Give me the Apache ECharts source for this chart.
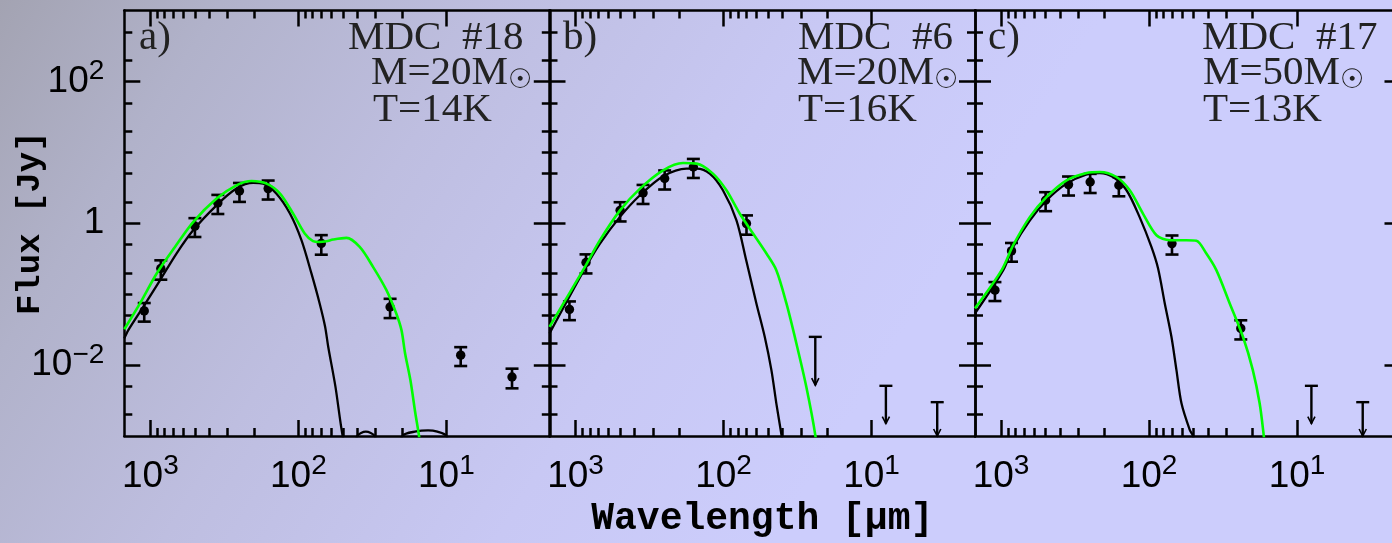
<!DOCTYPE html>
<html>
<head>
<meta charset="utf-8">
<script src="https://cdn.jsdelivr.net/npm/echarts@6/dist/echarts.min.js"></script>
<style>html,body{margin:0;padding:0;background:#c0c0e8;} #c{width:1392px;height:543px;}</style>
</head>
<body>
<div id="c"></div>
<script>
// ---------- tick / label values ----------
const xRange = [2, 1500];
const yRange = [0.001, 1000];
const xMajor = [10, 100, 1000];
const xMinor = [20, 30, 40, 50, 60, 70, 80, 90, 200, 300, 400, 500, 600, 700, 800, 900];
const yMajor = [0.01, 1, 100];
const yMinor = [0.002, 0.005, 0.02, 0.05, 0.1, 0.2, 0.5, 2, 5, 10, 20, 50, 200, 500];
const xLabelValues = [10, 100, 1000];
const yLabelValues = [0.01, 1, 100];

// ---------- panel a (MDC #18) ----------
const lamA  = [1100, 850, 500, 350, 250, 160, 70, 24, 8, 3.6];
const fluxA = [0.058, 0.23, 0.91, 1.93, 2.85, 3.08, 0.52, 0.066, 0.0138, 0.0068];
const errA  = [0.017, 0.07, 0.27, 0.58, 0.85, 0.92, 0.16, 0.02, 0.0041, 0.0021];
const blackA = [[1500,0.0238],[1409,0.0311],[1117,0.0662],[861,0.157],[666,0.374],[514,0.796],[357,1.79],[262,3.08],[202,3.70],[173,3.62],[141,2.62],[114,1.37],[95.3,0.577],[81.6,0.196],[71.8,0.074],[66,0.035],[62.8,0.018],[56.2,0.005],[50.2,0.001],[45,0.0004],[40,0.001],[35,0.00115],[30.5,0.001],[27,0.0004],[22,0.0004],[19.8,0.001],[16,0.00116],[13.3,0.0012],[11.5,0.00115],[10,0.001],[9,0.0004]];
const greenA = [[1500,0.032],[1175,0.074],[906,0.196],[682,0.463],[514,1.04],[357,2.23],[262,3.43],[207,3.94],[164,3.62],[133,2.62],[108.6,1.37],[90.6,0.716],[79.6,0.56],[72,0.545],[64.6,0.558],[58.3,0.589],[47.3,0.621],[38.5,0.463],[31.3,0.243],[25.4,0.114],[21.8,0.0535],[20.1,0.0311],[19.0,0.0146],[17.5,0.00615],[16.2,0.00209],[15.3,0.001],[14.5,0.0004]];

// ---------- panel b (MDC #6) ----------
const lamB  = [1100, 850, 500, 350, 250, 160, 70];
const fluxB = [0.061, 0.28, 1.52, 2.67, 4.27, 6.21, 0.99];
const errB  = [0.018, 0.084, 0.46, 0.8, 1.28, 1.86, 0.3];
const limLamB = [24, 8, 3.6];
const limUpB  = [0.025, 0.0051, 0.0030];
const limTipB = [0.0052, 0.0015, 0.001];
const blackB = [[1500,0.0279],[864,0.230],[684,0.517],[501,1.23],[367,2.48],[256,4.59],[178,5.89],[152,5.89],[124,5.01],[101,2.92],[81.8,1.10],[70.3,0.301],[60.0,0.074],[52.7,0.0251],[47.5,0.0085],[44.0,0.00289],[40.6,0.00103],[38,0.0004]];
const greenB = [[1500,0.0346],[864,0.243],[684,0.577],[501,1.52],[367,3.08],[256,5.58],[188,7.06],[152,6.93],[118,5.01],[95.6,2.92],[77.8,1.37],[63.2,0.716],[51.3,0.374],[44.0,0.218],[37.6,0.074],[32.2,0.0202],[27.6,0.00495],[24.0,0.00103],[23,0.0004]];

// ---------- panel c (MDC #17) ----------
const lamC  = [1100, 850, 500, 350, 250, 160, 70, 24];
const fluxC = [0.114, 0.407, 2.11, 3.51, 3.82, 3.43, 0.517, 0.0329];
const errC  = [0.034, 0.12, 0.63, 1.05, 1.15, 1.03, 0.155, 0.0099];
const limLamC = [8, 3.6];
const limUpC  = [0.0051, 0.0030];
const limTipC = [0.0015, 0.001];
const blackC = [[1500,0.0535],[967,0.218],[828,0.463],[638,1.10],[492,2.11],[361,3.62],[264,4.90],[215,5.11],[175,4.49],[142,2.92],[116,1.23],[96.4,0.463],[86.9,0.230],[78.3,0.074],[70.6,0.0251],[65.3,0.0085],[60.4,0.00289],[53.1,0.00122],[50.5,0.001],[48,0.0004]];
const greenC = [[1500,0.063],[991,0.218],[828,0.490],[638,1.23],[492,2.35],[361,4.03],[264,5.11],[215,5.28],[166,4.49],[135,2.92],[110,1.37],[89.1,0.678],[72.5,0.577],[56,0.577],[47.9,0.568],[41,0.374],[35.1,0.218],[28.5,0.074],[23.2,0.0251],[19.9,0.0085],[17.9,0.00289],[16.8,0.00103],[16,0.0004]];

// ---------- annotation texts ----------
const panelLetters = ['a)', 'b)', 'c)'];
const panelNames   = ['MDC  #18', 'MDC  #6', 'MDC  #17'];
const panelMass    = ['M=20M', 'M=20M', 'M=50M'];
const panelTemp    = ['T=14K', 'T=16K', 'T=13K'];

// ---------- layout ----------
const panelLeft = [124.3, 549.5, 975];
const panelTop = 10.5, panelW = 425.5, panelH = 425.5;
const letterX = [139, 563, 988];
const nameX = [348, 798, 1202];
const massX = [371, 797, 1203];
const tempX = [373, 798, 1203];

const chart = echarts.init(document.getElementById('c'), null, {renderer: 'canvas'});

const BLACK = '#000';
const axisLineStyle = {color: BLACK, width: 2.5};
const supFmt = (v) => {
  const e = Math.round(Math.log10(v));
  if (e === 0) return '{b|1}';
  return '{b|10}{s|' + (e < 0 ? '\u2212' + (-e) : e) + '}';
};
const labelRich = {
  b: {fontFamily: 'Liberation Sans', fontSize: 37, color: BLACK, lineHeight: 48},
  s: {fontFamily: 'Liberation Sans', fontSize: 28, color: BLACK, lineHeight: 12, verticalAlign: 'top'}
};

function mkX(g, pos, major, withLabel) {
  const ax = {
    type: 'log', logBase: 10, min: xRange[0], max: xRange[1], inverse: true,
    gridIndex: g, position: pos,
    splitLine: {show: false}, minorTick: {show: false}, minorSplitLine: {show: false},
    axisLine: {show: major, onZero: false, lineStyle: axisLineStyle},
    axisTick: {show: true, inside: true, length: major ? 16 : 8,
      lineStyle: {color: BLACK, width: 2.5}, customValues: major ? xMajor : xMinor},
    axisLabel: {show: false}
  };
  if (withLabel) {
    ax.axisLabel = {show: true, customValues: xLabelValues, formatter: supFmt, margin: 16.5, rich: labelRich};
  }
  return ax;
}
function mkY(g, pos, major, withLabel) {
  const ax = {
    type: 'log', logBase: 10, min: yRange[0], max: yRange[1],
    gridIndex: g, position: pos,
    splitLine: {show: false}, minorTick: {show: false}, minorSplitLine: {show: false},
    axisLine: {show: major, onZero: false, lineStyle: axisLineStyle},
    axisTick: {show: true, inside: true, length: major ? 16 : 8,
      lineStyle: {color: BLACK, width: 2.5}, customValues: major ? yMajor : yMinor},
    axisLabel: {show: false}
  };
  if (withLabel) {
    ax.axisLabel = {show: true, customValues: yLabelValues, formatter: supFmt, margin: 20, rich: labelRich};
  }
  return ax;
}

const grids = [], xAxes = [], yAxes = [];
panelLeft.forEach((left, g) => {
  grids.push({left: left, top: panelTop, width: panelW, height: panelH, show: false, containLabel: false, outerBoundsMode: 'none'});
  const xb = mkX(g, 'bottom', true, true);
  if (g === 1) {
    xb.name = 'Wavelength [\u03bcm]';
    xb.nameLocation = 'middle';
    xb.nameGap = 64;
    xb.nameMoveOverlap = false;
    xb.nameTextStyle = {fontFamily: 'Liberation Mono', fontWeight: 'bold', fontSize: 38, color: BLACK};
  }
  xAxes.push(xb, mkX(g, 'bottom', false, false), mkX(g, 'top', true, false), mkX(g, 'top', false, false));
  const yl = mkY(g, 'left', true, g === 0);
  if (g === 0) {
    yl.name = 'Flux [Jy]';
    yl.nameLocation = 'middle';
    yl.nameRotate = 90;
    yl.nameGap = 77;
    yl.nameMoveOverlap = false;
    yl.nameTextStyle = {fontFamily: 'Liberation Mono', fontWeight: 'bold', fontSize: 34, color: BLACK};
  }
  yAxes.push(yl, mkY(g, 'left', false, false), mkY(g, 'right', true, false), mkY(g, 'right', false, false));
});

function errRender(params, api) {
  const x = api.value(0), y = api.value(1), e = api.value(2);
  const c = api.coord([x, y]);
  const hi = api.coord([x, y + e]);
  const lo = api.coord([x, y - e]);
  const w = 6.5;
  const st = {stroke: BLACK, lineWidth: 2.6};
  return {type: 'group', children: [
    {type: 'line', shape: {x1: c[0], y1: hi[1], x2: c[0], y2: lo[1]}, style: st},
    {type: 'line', shape: {x1: c[0] - w, y1: hi[1], x2: c[0] + w, y2: hi[1]}, style: st},
    {type: 'line', shape: {x1: c[0] - w, y1: lo[1], x2: c[0] + w, y2: lo[1]}, style: st},
    {type: 'circle', shape: {cx: c[0], cy: c[1], r: 4.7}, style: {fill: BLACK}}
  ]};
}
function limRender(params, api) {
  const x = api.value(0), up = api.value(1), tip = api.value(2);
  const a = api.coord([x, up]);
  const t = api.coord([x, tip]);
  const w = 6.5;
  const st = {stroke: BLACK, lineWidth: 2.4};
  return {type: 'group', children: [
    {type: 'line', shape: {x1: a[0], y1: a[1], x2: t[0], y2: t[1]}, style: st},
    {type: 'line', shape: {x1: a[0] - w, y1: a[1], x2: a[0] + w, y2: a[1]}, style: st},
    {type: 'polyline', shape: {points: [[t[0] - 3.6, t[1] - 7], [t[0], t[1]], [t[0] + 3.6, t[1] - 7]]}, style: {stroke: BLACK, lineWidth: 1.6, fill: null}}
  ]};
}

const zip3 = (a, b, c) => a.map((v, i) => [v, b[i], c[i]]);
const panels = [
  {pts: zip3(lamA, fluxA, errA), lims: [], black: blackA, green: greenA},
  {pts: zip3(lamB, fluxB, errB), lims: zip3(limLamB, limUpB, limTipB), black: blackB, green: greenB},
  {pts: zip3(lamC, fluxC, errC), lims: zip3(limLamC, limUpC, limTipC), black: blackC, green: greenC}
];

const series = [];
panels.forEach((p, g) => {
  const xi = 4 * g, yi = 4 * g;
  series.push({type: 'custom', xAxisIndex: xi, yAxisIndex: yi, renderItem: errRender, data: p.pts, encode: {x: 0, y: 1}, clip: false, z: 3, silent: true});
  if (p.lims.length) {
    series.push({type: 'custom', xAxisIndex: xi, yAxisIndex: yi, renderItem: limRender, data: p.lims, encode: {x: 0, y: 1}, clip: false, z: 3, silent: true});
  }
  series.push({type: 'line', xAxisIndex: xi, yAxisIndex: yi, data: p.black, showSymbol: false, symbol: 'none', smooth: 0.3, clip: true,
    lineStyle: {color: BLACK, width: 2.3}, z: 4, silent: true});
  series.push({type: 'line', xAxisIndex: xi, yAxisIndex: yi, data: p.green, showSymbol: false, symbol: 'none', smooth: 0.3, clip: true,
    lineStyle: {color: '#00ff00', width: 2.6}, z: 5, silent: true});
});

const noteFont = {fontFamily: 'Liberation Serif', fontSize: 41, fill: '#222'};
const graphics = [];
function addText(x, y, text, rich) {
  const style = Object.assign({text: text, x: x, y: y, align: 'left', verticalAlign: 'middle'}, noteFont);
  if (rich) style.rich = rich;
  graphics.push({type: 'text', z: 10, silent: true, style: style});
}
const sunRich = {
  m: {fontFamily: 'Liberation Serif', fontSize: 41, lineHeight: 41, fill: '#222', color: '#222'},
  s: {fontFamily: 'DejaVu Sans', fontSize: 27, lineHeight: 6, verticalAlign: 'bottom', fill: '#222', color: '#222'}
};
for (let g = 0; g < 3; g++) {
  addText(letterX[g], 38.5, panelLetters[g]);
  addText(nameX[g], 38.5, panelNames[g]);
  addText(massX[g], 73.5, '{m|' + panelMass[g] + '}{s|\u2609}', sunRich);
  addText(tempX[g], 110, panelTemp[g]);
}

chart.setOption({
  animation: false,
  backgroundColor: {
    type: 'linear', x: 0, y: 0, x2: 800, y2: 500, global: true,
    colorStops: [
      {offset: 0, color: '#a3a3b2'},
      {offset: 0.2, color: '#b1b2ca'},
      {offset: 0.45, color: '#bebee0'},
      {offset: 0.75, color: '#c8c8f4'},
      {offset: 1, color: '#cccdfc'}
    ]
  },
  grid: grids,
  xAxis: xAxes,
  yAxis: yAxes,
  series: series,
  graphic: graphics
});
</script>
</body>
</html>
